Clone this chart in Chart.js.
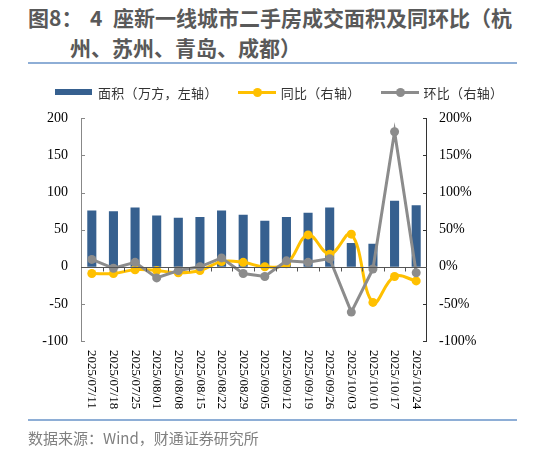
<!DOCTYPE html>
<html>
<head>
<meta charset="utf-8">
<script src="https://cdn.jsdelivr.net/npm/chart.js@4"></script>
<style>
  body { margin: 0; width: 533px; height: 451px; background: #fff; position: relative; overflow: hidden; font-family: "Noto Sans CJK SC", sans-serif; }
  .title { position: absolute; color: #595959; font-weight: bold; font-size: 21px; line-height: 26px; white-space: pre; }
  .rule { position: absolute; left: 28px; width: 489px; height: 2px; background: #8eaed6; }
  #legend { position: absolute; top: 82px; left: 55px; height: 20px; font-size: 13px; color: #333; display: flex; align-items: center; white-space: nowrap; z-index: 2; }
  #legend .sw { display: inline-block; position: relative; width: 38px; height: 20px; margin-right: 5px; }
  #legend .bar { position: absolute; left: 0; top: 7px; width: 37px; height: 6px; background: #36608f; }
  #legend .ln { position: absolute; left: 0; top: 9px; width: 38px; height: 3px; }
  #legend .dot { position: absolute; left: 15px; top: 6px; width: 9px; height: 9px; border-radius: 50%; }
  #legend .item { display: flex; align-items: center; margin-right: 20px; letter-spacing: 0.3px; }
  #src { position: absolute; left: 28px; top: 427px; font-size: 15px; color: #808080; }
  #wrap { position: absolute; left: 0; top: 97px; width: 533px; height: 323px; }
</style>
</head>
<body>
<div class="title" style="top:4px;left:28px">图8：</div>
<div class="title" style="top:4px;left:90px">4</div>
<div class="title" style="top:4px;left:113px">座新一线城市二手房成交面积及同环比（杭</div>
<div class="title" style="top:34px;left:70px">州、苏州、青岛、成都）</div>
<div class="rule" style="top:62px"></div>
<div id="wrap"><canvas id="grafica"></canvas></div>
<div id="legend">
  <div class="item"><span class="sw"><span class="bar"></span></span>面积（万方，左轴）</div>
  <div class="item"><span class="sw"><span class="ln" style="background:#ffc000"></span><span class="dot" style="background:#ffc000"></span></span>同比（右轴）</div>
  <div class="item"><span class="sw"><span class="ln" style="background:#8c8c8c"></span><span class="dot" style="background:#8c8c8c"></span></span>环比（右轴）</div>
</div>
<div class="rule" style="top:419px"></div>
<div id="src">数据来源：Wind，财通证券研究所</div>
<script>
const labels = ['2025/07/11', '2025/07/18', '2025/07/25', '2025/08/01', '2025/08/08', '2025/08/15', '2025/08/22', '2025/08/29',
	'2025/09/05', '2025/09/12', '2025/09/19', '2025/09/26', '2025/10/03', '2025/10/10', '2025/10/17', '2025/10/24']
const area = [76, 75, 80, 69, 66, 67, 76, 70, 62, 67, 73, 80, 32, 31, 89, 83]
const yoy = [-9, -9, -4, -5, -8, -5, 7, 6, 0, 4, 43, 17, 44, -48, -13, -19]
const mom = [10, -2, 6, -15, -5, 0, 12, -9, -13, 8, 6, 11, -61, -3, 182, -8]

const serif = '"Liberation Serif", "Times New Roman", serif';

// axis lines, inward ticks, zero line and top-to-bottom date labels
const axisPlugin = {
	id: 'axisPlugin',
	afterDatasetsDraw(chart) {
		const ctx = chart.ctx;
		const a = chart.chartArea;
		const yl = chart.scales.y;
		const yr = chart.scales.y1;
		const x = chart.scales.x;
		ctx.save();
		ctx.lineWidth = 1;
		// left axis
		ctx.strokeStyle = '#888';
		ctx.beginPath();
		ctx.moveTo(a.left + 0.5, a.top);
		ctx.lineTo(a.left + 0.5, a.bottom);
		yl.ticks.forEach(t => {
			const py = Math.round(yl.getPixelForValue(t.value)) + 0.5;
			ctx.moveTo(a.left, py);
			ctx.lineTo(a.left + 4, py);
		});
		ctx.stroke();
		// right axis
		ctx.strokeStyle = '#333';
		ctx.beginPath();
		ctx.moveTo(a.right - 0.5, a.top);
		ctx.lineTo(a.right - 0.5, a.bottom);
		yr.ticks.forEach(t => {
			const py = Math.round(yr.getPixelForValue(t.value)) + 0.5;
			ctx.moveTo(a.right, py);
			ctx.lineTo(a.right - 4, py);
		});
		ctx.stroke();
		// zero line with category ticks
		const y0 = Math.round(yl.getPixelForValue(0)) + 0.5;
		ctx.strokeStyle = '#555';
		ctx.beginPath();
		ctx.moveTo(a.left, y0);
		ctx.lineTo(a.right, y0);
		for (let i = 1; i < labels.length; i++) {
			const px = Math.round((x.getPixelForValue(i - 1) + x.getPixelForValue(i)) / 2) + 0.5;
			ctx.moveTo(px, y0);
			ctx.lineTo(px, y0 + 4);
		}
		ctx.stroke();
		// date labels
		ctx.fillStyle = '#000';
		ctx.font = '13px ' + serif;
		ctx.textAlign = 'left';
		ctx.textBaseline = 'middle';
		labels.forEach((l, i) => {
			ctx.save();
			ctx.translate(x.getPixelForValue(i), a.bottom + 9);
			ctx.rotate(Math.PI / 2);
			ctx.fillText(l, 0, 0);
			ctx.restore();
		});
		ctx.restore();
	}
};

const graph = document.querySelector("#grafica");

const data = {
	labels: labels,
	datasets: [{
		type: 'bar',
		label: '面积（万方，左轴）',
		data: area,
		backgroundColor: '#36608f',
		yAxisID: 'y',
		barPercentage: 0.42,
		categoryPercentage: 1,
		order: 3
	}, {
		type: 'line',
		label: '同比（右轴）',
		data: yoy,
		borderColor: '#ffc000',
		backgroundColor: '#ffc000',
		borderWidth: 3,
		pointRadius: 4.5,
		pointHoverRadius: 4.5,
		pointBorderWidth: 0,
		tension: 0.4,
		yAxisID: 'y1',
		order: 2
	}, {
		type: 'line',
		label: '环比（右轴）',
		data: mom,
		borderColor: '#8c8c8c',
		backgroundColor: '#8c8c8c',
		borderWidth: 3,
		pointRadius: 4.5,
		pointHoverRadius: 4.5,
		pointBorderWidth: 0,
		tension: 0,
		yAxisID: 'y1',
		order: 1
	}]
};

const config = {
	data: data,
	options: {
		responsive: true,
		maintainAspectRatio: false,
		animation: false,
		layout: { padding: { top: 4, left: 0, right: 0, bottom: 0 } },
		plugins: { legend: { display: false }, tooltip: { enabled: false } },
		scales: {
			x: {
				grid: { display: false },
				border: { display: false },
				ticks: { display: false },
				afterFit(s) { s.height = 79; }
			},
			y: {
				position: 'left',
				min: -100, max: 200,
				grid: { display: false, drawTicks: false },
				border: { display: false },
				ticks: { stepSize: 50, padding: 13, color: '#000', font: { family: serif, size: 14 } },
				afterFit(s) { s.width = 81; }
			},
			y1: {
				position: 'right',
				min: -100, max: 200,
				grid: { display: false, drawTicks: false },
				border: { display: false },
				ticks: { stepSize: 50, padding: 12, color: '#000', font: { family: serif, size: 14 }, callback: v => v + '%' },
				afterFit(s) { s.width = 106; }
			}
		}
	},
	plugins: [axisPlugin]
};
new Chart(graph, config);
</script>
</body>
</html>
